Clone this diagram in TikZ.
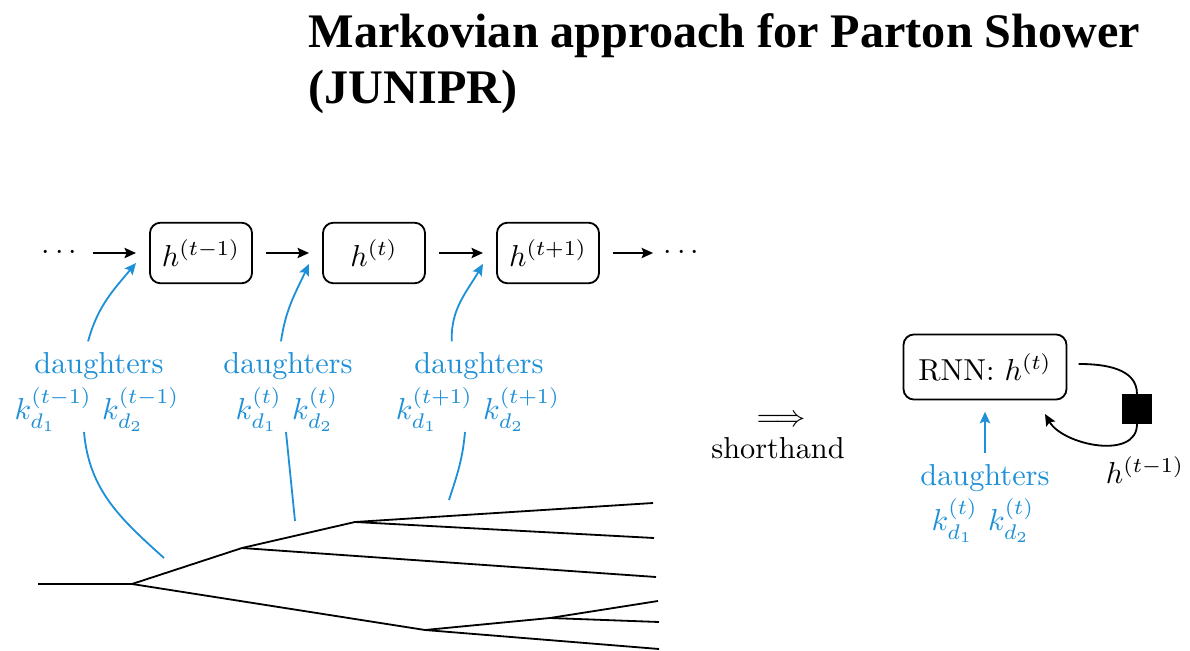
\documentclass[tikz,border=0pt]{standalone}
\usepackage{amsmath}
\usepackage{fontspec}
\newfontfamily\titlefont{Liberation Serif}
\usetikzlibrary{arrows.meta,positioning}

\definecolor{dblue}{RGB}{30,144,215}

\tikzset{
  hbox/.style={draw,semithick,rounded corners=3.5pt,minimum width=33.7pt,minimum height=20pt,inner sep=2pt,outer sep=4.6pt},
  dtext/.style={text=dblue,inner sep=3.3pt},
  dline/.style={dblue,semithick},
  tip/.style={-{Stealth[length=3.8pt,width=3.4pt,inset=0.7pt]}},
  branch/.style={semithick},
}

\begin{document}
\begin{tikzpicture}[x=0.33pt,y=0.33pt]
\useasboundingbox (0,0) rectangle (1190,-651);

% title
\node[anchor=base west,inner sep=0] (title1) at (308,-47) {\titlefont\bfseries\fontsize{15.9}{18}\selectfont Markovian approach for Parton Shower};
\node[anchor=base west,inner sep=0] (title2) at (308,-103) {\titlefont\bfseries\fontsize{15.9}{18}\selectfont (JUNIPR)};

% hidden states
\node (dl) at (62,-253) {$\cdots$};
\node[hbox] (h1) at (201,-253) {$h^{(t-1)}$};
\node[hbox] (h2) at (374,-253) {$h^{(t)}$};
\node[hbox] (h3) at (548,-253) {$h^{(t+1)}$};
\node (dr) at (684,-253) {$\cdots$};
\draw[semithick,tip] (dl.east) -- (h1.west);
\draw[semithick,tip] (h1.east) -- (h2.west);
\draw[semithick,tip] (h2.east) -- (h3.west);
\draw[semithick,tip] (h3.east) -- (dr.west);

% daughters
\node[dtext,anchor=base] (d1) at (99,-373) {daughters};
\node[dtext,anchor=base] (k1) at (97,-419) {$k^{(t-1)}_{d_1}\ k^{(t-1)}_{d_2}$};
\node[dtext,anchor=base] (d2) at (288,-373) {daughters};
\node[dtext,anchor=base] (k2) at (287,-419) {$k^{(t)}_{d_1}\ k^{(t)}_{d_2}$};
\node[dtext,anchor=base] (d3) at (479,-373) {daughters};
\node[dtext,anchor=base] (k3) at (478,-419) {$k^{(t+1)}_{d_1}\ k^{(t+1)}_{d_2}$};

\draw[dline,tip] ([xshift=-3.6pt]d1.north) to[out=75,in=-130] ([yshift=-3.3pt]h1.west);
\draw[dline,tip] ([xshift=-2.3pt]d2.north) to[out=82,in=-115] ([yshift=-3.6pt]h2.west);
\draw[dline,tip] ([xshift=-9pt]d3.north) to[out=92,in=-120] ([yshift=-3.6pt]h3.west);

% shower tree
\coordinate (r0) at (38,-584);
\coordinate (A) at (132,-584);
\coordinate (B) at (242,-548);
\coordinate (C) at (355,-522);
\coordinate (D) at (425,-630);
\coordinate (E) at (550,-618);
\coordinate (l1) at (653,-503);
\coordinate (l2) at (654,-538);
\coordinate (l3) at (656,-577);
\coordinate (l4) at (658,-601);
\coordinate (l5) at (659,-622);
\coordinate (l6) at (659,-649);
\draw[branch] (r0) -- (A) -- (B) -- (C) -- (l1);
\draw[branch] (C) -- (l2);
\draw[branch] (B) -- (l3);
\draw[branch] (A) -- (D) -- (E) -- (l4);
\draw[branch] (E) -- (l5);
\draw[branch] (D) -- (l6);

% lines from the splittings to the labels
\coordinate (s1) at (84,-432);
\coordinate (e1) at (164,-558);
\coordinate (s2) at (286,-432);
\coordinate (e2) at (295,-521);
\coordinate (s3) at (465,-432);
\coordinate (e3) at (449,-500);
\draw[dline] (s1) to[out=-85,in=138] (e1);
\draw[dline] (s2) -- (e2);
\draw[dline] (s3) to[out=-95,in=72] (e3);

% shorthand
\node (impl) at (781,-421) {$\Longrightarrow$};
\node[anchor=base] (sh) at (778,-458) {shorthand};

\node[hbox,minimum width=53.8pt,minimum height=21.5pt,outer sep=0pt] (rnn) at (985,-367) {RNN: $h^{(t)}$};
\node[dtext,anchor=base] (d4) at (985,-485) {daughters};
\node[dtext,anchor=base] (k4) at (983,-530) {$k^{(t)}_{d_1}\ k^{(t)}_{d_2}$};
\draw[dline,tip,shorten >=4pt] (d4.north) -- (rnn.south);

\node[fill=black,minimum width=10pt,minimum height=9.6pt,inner sep=0] (sq) at (1137,-409) {};
\coordinate (lt) at (1045,-414);
\draw[semithick] ([shift={(4pt,1pt)}]rnn.east) to[out=0,in=90] (sq.north);
\draw[semithick,tip] (sq.south) to[out=-90,in=-60] (lt);
\node[anchor=base] (hl) at (1145,-483) {$h^{(t-1)}$};
\end{tikzpicture}
\end{document}
